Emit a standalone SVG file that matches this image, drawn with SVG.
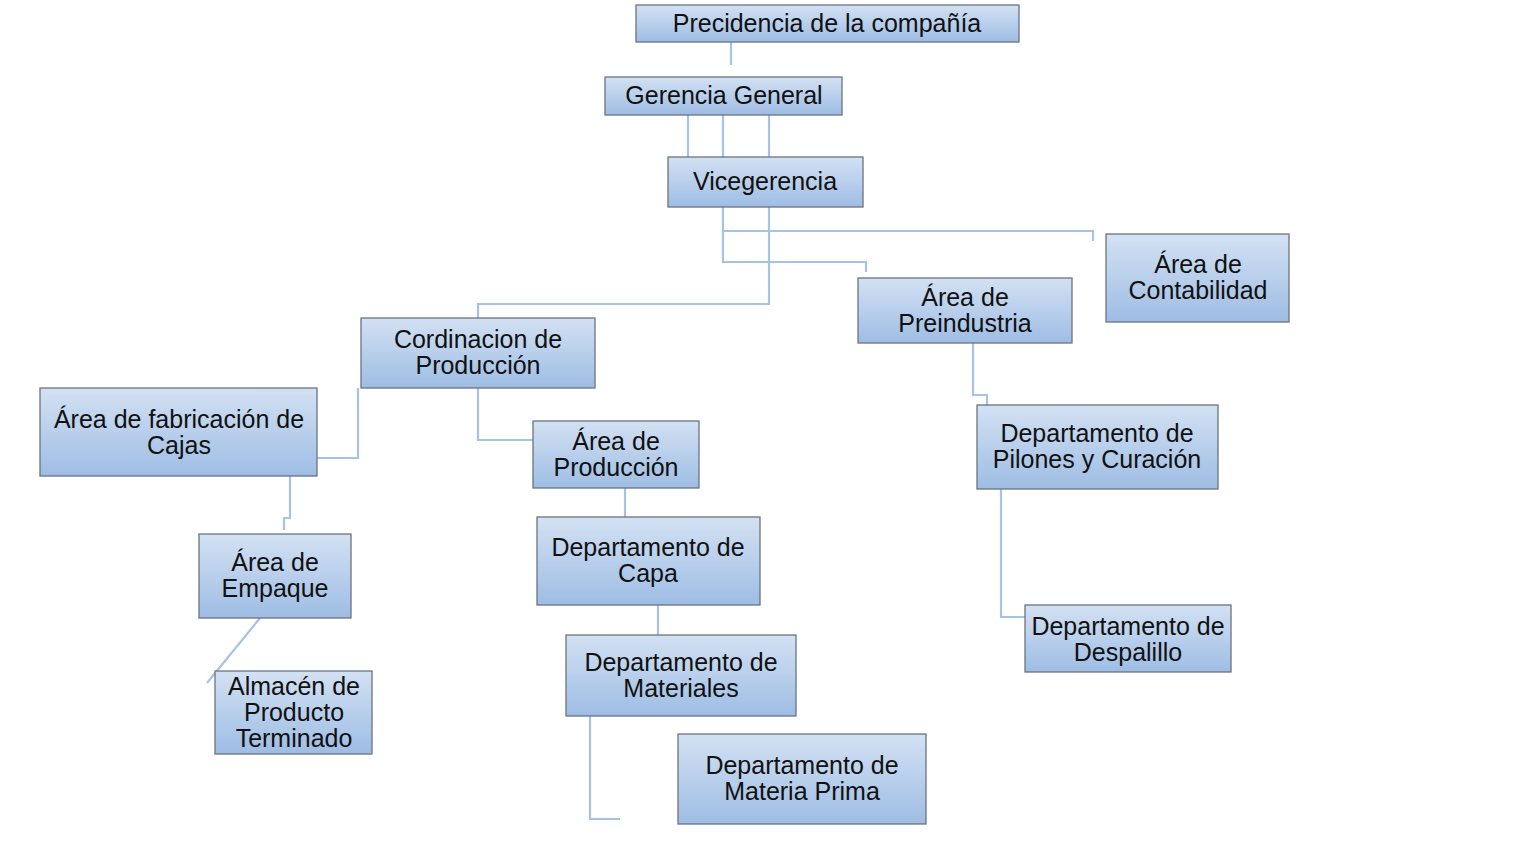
<svg xmlns="http://www.w3.org/2000/svg" width="1526" height="844" viewBox="0 0 1526 844">
<defs>
<linearGradient id="g" x1="0" y1="0" x2="0" y2="1">
<stop offset="0" stop-color="#d3e1f3"/>
<stop offset="1" stop-color="#9ebde4"/>
</linearGradient>
<style>
.n rect{fill:url(#g);stroke:#6b7480;stroke-width:1.3}
.n text{font-family:"Liberation Sans",Arial,sans-serif;font-size:25px;fill:#111;text-anchor:middle}
#connectors path{fill:none;stroke:#a6c3e6;stroke-width:2.2}
</style>
</defs>
<rect width="1526" height="844" fill="#fff"/>
<g id="connectors">
<path d="M731,42 V65"/>
<path d="M688,115 V157 M723,115 V157 M769,115 V157"/>
<path d="M723,207 V262 H866 V272"/>
<path d="M723,231 H1093 V241"/>
<path d="M769,207 V304 H478 V318"/>
<path d="M478,388 V440 H533"/>
<path d="M358,388 V458 H317"/>
<path d="M290,476 V518 H284 V530"/>
<path d="M260,618 L207,683"/>
<path d="M625,488 V517"/>
<path d="M658,605 V635"/>
<path d="M590,716 V819 H620"/>
<path d="M973,343 V395 H987 V405"/>
<path d="M1001,489 V617 H1025"/>
</g>
<g id="n1" class="n"><rect x="636" y="5" width="383" height="37"/><text x="827" y="32">Precidencia de la compañía</text></g>
<g id="n2" class="n"><rect x="605" y="77" width="237" height="38"/><text x="724" y="104">Gerencia General</text></g>
<g id="n3" class="n"><rect x="668" y="157" width="195" height="50"/><text x="765" y="190">Vicegerencia</text></g>
<g id="n4" class="n"><rect x="1106" y="234" width="183" height="88"/><text x="1198" y="273">Área de</text><text x="1198" y="299">Contabilidad</text></g>
<g id="n5" class="n"><rect x="858" y="278" width="214" height="65"/><text x="965" y="306">Área de</text><text x="965" y="332">Preindustria</text></g>
<g id="n6" class="n"><rect x="361" y="318" width="234" height="70"/><text x="478" y="348">Cordinacion de</text><text x="478" y="374">Producción</text></g>
<g id="n7" class="n"><rect x="40" y="388" width="277" height="88"/><text x="179" y="428">Área de fabricación de</text><text x="179" y="454">Cajas</text></g>
<g id="n8" class="n"><rect x="533" y="421" width="166" height="67"/><text x="616" y="450">Área de</text><text x="616" y="476">Producción</text></g>
<g id="n9" class="n"><rect x="977" y="405" width="241" height="84"/><text x="1097" y="442">Departamento de</text><text x="1097" y="468">Pilones y Curación</text></g>
<g id="n10" class="n"><rect x="199" y="534" width="152" height="84"/><text x="275" y="571">Área de</text><text x="275" y="597">Empaque</text></g>
<g id="n11" class="n"><rect x="537" y="517" width="223" height="88"/><text x="648" y="556">Departamento de</text><text x="648" y="582">Capa</text></g>
<g id="n12" class="n"><rect x="1025" y="605" width="206" height="67"/><text x="1128" y="635">Departamento de</text><text x="1128" y="661">Despalillo</text></g>
<g id="n13" class="n"><rect x="566" y="635" width="230" height="81"/><text x="681" y="671">Departamento de</text><text x="681" y="697">Materiales</text></g>
<g id="n14" class="n"><rect x="215" y="671" width="157" height="83"/><text x="294" y="695">Almacén de</text><text x="294" y="721">Producto</text><text x="294" y="747">Terminado</text></g>
<g id="n15" class="n"><rect x="678" y="734" width="248" height="90"/><text x="802" y="774">Departamento de</text><text x="802" y="800">Materia Prima</text></g>
</svg>
